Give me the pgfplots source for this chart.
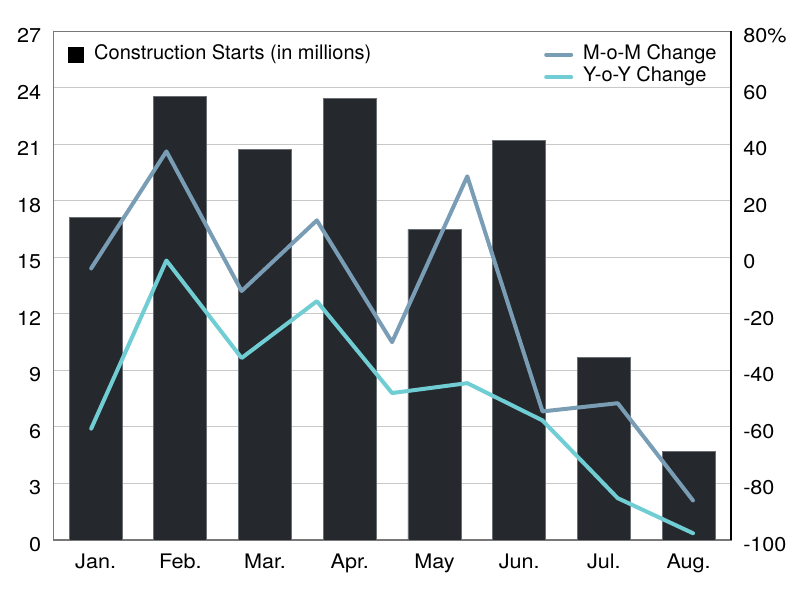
\documentclass[border=0pt]{standalone}
\usepackage{fontspec}
\setmainfont{TeX Gyre Heros}
\newfontfamily\tickfont[FakeStretch=1.08]{TeX Gyre Heros}
\usepackage{pgfplots}
\pgfplotsset{compat=1.18}
\definecolor{barcol}{RGB}{37,41,45}
\definecolor{baredge}{RGB}{105,110,115}
\definecolor{momcol}{RGB}{122,157,182}
\definecolor{yoycol}{RGB}{111,205,211}
\definecolor{gridcol}{RGB}{200,200,200}
\definecolor{framecol}{RGB}{120,120,120}
\begin{document}
\begin{tikzpicture}
\pgfplotsset{
  base/.style={
    scale only axis, width=338.85pt, height=254.35pt,
    at={(0,0)}, anchor=south west,
    xmin=-0.5, xmax=7.5,
    major tick length=0pt,
    tick label style={font=\tickfont\fontsize{10}{12}\selectfont},
    /pgf/number format/assume math mode=true,
    legend style={draw=none, fill=none, inner sep=0pt, font=\fontsize{10}{12}\selectfont,
      nodes={inner sep=0pt, text height=8pt, text depth=3.3pt},
      /tikz/every odd column/.append style={column sep=5pt}},
    legend cell align=left,
  }
}
\begin{axis}[base,
  ymin=0, ymax=27, ytick={0,3,...,27},
  xtick={0,...,7},
  xticklabels={Jan.,Feb.,Mar.,Apr.,May,Jun.,Jul.,Aug.},
  ymajorgrids, grid style={gridcol, line width=0.5pt},
  axis line style={framecol, line width=0.6pt},
  yticklabel style={xshift=-2.6pt, yshift=-2.25pt},
  xticklabel style={yshift=-3.6pt},
  legend style={at={(0,1)}, anchor=north west, xshift=7.35pt, yshift=-5.85pt},
  legend image code/.code={\fill[black] (0pt,-3.75pt) rectangle (7.5pt,3.75pt);},
]
\addplot[ybar, bar width=26.5pt, fill=barcol, draw=baredge, line width=0.4pt]
  coordinates {(0,17.1) (1,23.55) (2,20.75) (3,23.45) (4,16.5) (5,21.2) (6,9.7) (7,4.7)};
\addlegendentry{Construction Starts (in millions)}
\end{axis}
\begin{axis}[base,
  ymin=-100, ymax=80, ytick={-100,-80,...,80},
  yticklabels={-100,-80,-60,-40,-20,0,20,40,60,80\%},
  axis x line=none, axis y line*=right,
  axis line style={black, line width=0.6pt, -},
  yticklabel style={xshift=2.6pt, yshift=-2.25pt},
  legend style={at={(1,1)}, anchor=north east, xshift=-7pt, yshift=-5.85pt},
  legend image code/.code={\draw[#1, line width=2pt, line cap=round] (0pt,0pt) -- (12.5pt,0pt);},
]
\addplot[momcol, line width=2pt, line cap=round, line join=round, no markers]
  coordinates {(-0.053,-3.9) (0.835,37.5) (1.723,-11.9) (2.611,13.1) (3.499,-30.0) (4.387,28.7) (5.275,-54.5) (6.163,-51.6) (7.051,-86.0)};
\addlegendentry{M-o-M Change}
\addplot[yoycol, line width=2pt, line cap=round, line join=round, no markers]
  coordinates {(-0.053,-60.6) (0.835,-1.1) (1.723,-35.6) (2.611,-15.5) (3.499,-48.0) (4.387,-44.5) (5.275,-57.7) (6.163,-85.2) (7.051,-97.6)};
\addlegendentry{Y-o-Y Change}
\end{axis}
\path[use as bounding box] (-26.65pt,-30pt) rectangle (373.35pt,270pt);
\end{tikzpicture}
\end{document}
